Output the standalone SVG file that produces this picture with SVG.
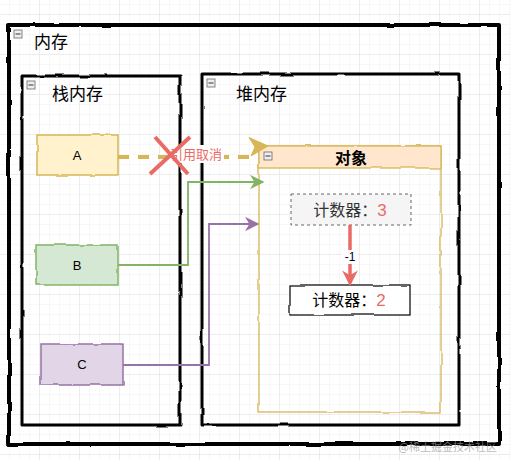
<svg xmlns="http://www.w3.org/2000/svg" width="510" height="460" viewBox="0 0 510 460">
<style>
.t{font-family:"Liberation Sans","Noto Sans CJK SC",sans-serif;fill:#000}
.cn{font-family:"Noto Sans CJK SC","Liberation Sans",sans-serif}
.box{stroke:#000;fill:none;stroke-linejoin:round}
.ic{fill:#eee;stroke:#666;stroke-width:0.8}
.icl{stroke:#333;stroke-width:1}
</style>
<defs>
<pattern id="minor" width="10" height="10" patternUnits="userSpaceOnUse" x="0" y="5">
<path d="M10 0V10M0 10H10" stroke="#f0f0f0" stroke-width="1" fill="none"/>
</pattern>
<pattern id="major" width="40" height="40" patternUnits="userSpaceOnUse" x="0" y="15">
<path d="M40 0V40M0 40H40" stroke="#e2e2e2" stroke-width="1" fill="none"/>
</pattern>
<filter id="rough" x="-5%" y="-5%" width="110%" height="110%">
<feTurbulence type="fractalNoise" baseFrequency="0.04" numOctaves="2" seed="3"/>
<feDisplacementMap in="SourceGraphic" scale="3" xChannelSelector="R" yChannelSelector="G"/>
</filter>
<marker id="ag" viewBox="0 0 10 10" refX="9" refY="5" markerWidth="8" markerHeight="8" orient="auto" markerUnits="strokeWidth">
<path d="M0 0L10 5L0 10L3 5Z" fill="#82b366"/>
</marker>
<marker id="ap" viewBox="0 0 10 10" refX="9" refY="5" markerWidth="8" markerHeight="8" orient="auto" markerUnits="strokeWidth">
<path d="M0 0L10 5L0 10L3 5Z" fill="#9673a6"/>
</marker>
<marker id="ar" viewBox="0 0 10 10" refX="8" refY="5" markerWidth="4.5" markerHeight="4.5" orient="auto" markerUnits="strokeWidth">
<path d="M0 0L10 5L0 10L3 5Z" fill="#ea6b66"/>
</marker>
</defs>
<rect width="510" height="460" fill="#fff"/>
<rect width="510" height="460" fill="url(#minor)"/>
<rect width="510" height="460" fill="url(#major)"/>

<g id="memory">
<rect x="9" y="25" width="490" height="419" class="box" stroke-width="4" filter="url(#rough)"/>
<rect x="14" y="30" width="8" height="8" class="ic"/><path d="M15.5 34H20.5" class="icl"/>
<text x="34" y="48" class="t cn" font-size="17">内存</text>
</g>

<g id="stack">
<rect x="22" y="76" width="158" height="349" class="box" stroke-width="3" filter="url(#rough)"/>
<rect x="27" y="81" width="8" height="8" class="ic"/><path d="M28.5 85H33.5" class="icl"/>
<text x="52" y="100" class="t cn" font-size="17">栈内存</text>
</g>

<g id="heap">
<rect x="202" y="74" width="257" height="351" class="box" stroke-width="3" filter="url(#rough)"/>
<rect x="207" y="79" width="8" height="8" class="ic"/><path d="M208.5 83H213.5" class="icl"/>
<text x="236" y="100" class="t cn" font-size="17">堆内存</text>
</g>

<g id="object">
<rect x="259" y="146" width="182" height="266" fill="none" stroke="#d6b656" stroke-width="1.3" filter="url(#rough)"/>
<rect x="259" y="146" width="182" height="22" fill="#ffe6cc" stroke="#d6b656" stroke-width="1.3" filter="url(#rough)"/>
<rect x="264" y="152" width="8" height="8" class="ic"/><path d="M265.5 156H270.5" class="icl"/>
<text x="351" y="163.5" text-anchor="middle" class="t cn" font-size="16" font-weight="bold">对象</text>
</g>

<g id="nodeA">
<rect x="37" y="135" width="81" height="40" fill="#fff2cc" stroke="#d6b656" stroke-width="1.5" filter="url(#rough)"/>
<text x="77" y="160" text-anchor="middle" class="t" font-size="13">A</text>
</g>
<g id="nodeB">
<rect x="36" y="245" width="82" height="40" fill="#d5e8d4" stroke="#82b366" stroke-width="1.5" filter="url(#rough)"/>
<text x="77" y="270" text-anchor="middle" class="t" font-size="13">B</text>
</g>
<g id="nodeC">
<rect x="41" y="344" width="82" height="41" fill="#e1d5e7" stroke="#9673a6" stroke-width="1.5" filter="url(#rough)"/>
<text x="82" y="369" text-anchor="middle" class="t" font-size="13">C</text>
</g>

<g id="counter3">
<rect x="291" y="194" width="120" height="31" fill="#f5f5f5" stroke="#666" stroke-width="1" stroke-dasharray="3 3"/>
<text x="350" y="216" text-anchor="middle" class="t cn" font-size="16" fill="#333"><tspan fill="#333">计数器：</tspan><tspan fill="#ea6b66" font-family="Liberation Sans,sans-serif" font-size="17">3</tspan></text>
</g>
<g id="counter2">
<rect x="290" y="285" width="120" height="30" fill="#fff" stroke="#000" stroke-width="1.2" filter="url(#rough)"/>
<text x="349" y="306" text-anchor="middle" class="t cn" font-size="16"><tspan>计数器：</tspan><tspan fill="#ea6b66" font-family="Liberation Sans,sans-serif" font-size="17">2</tspan></text>
</g>

<g id="connectors" fill="none">
<path d="M118 157H252" stroke="#d6b656" stroke-width="4" stroke-dasharray="11 9"/>
<path d="M268 146L249 137.5L255 147L251 156Z" fill="#d6b656" stroke="#d6b656" stroke-width="1" stroke-linejoin="round"/>
<rect x="169" y="145" width="55" height="18" fill="#fff"/>
<path d="M150 174L190 137M155 137L188 174" stroke="#ea6b66" stroke-width="4"/>
<text x="196" y="159" text-anchor="middle" class="cn" font-size="13" fill="#ea6b66">引用取消</text>
<path d="M118 265H188V182H263" stroke="#82b366" stroke-width="1.8" marker-end="url(#ag)"/>
<path d="M123 365H209V224H258" stroke="#9673a6" stroke-width="1.8" marker-end="url(#ap)"/>
<path d="M350 225V283" stroke="#ea6b66" stroke-width="3.5" marker-end="url(#ar)"/>
<rect x="342" y="250" width="16" height="14" fill="#fff"/>
<text x="350" y="261" text-anchor="middle" font-family="Liberation Sans,sans-serif" font-size="12" fill="#000033">-1</text>
</g>

<text x="497" y="451" text-anchor="end" class="cn" font-size="11" fill="#999" fill-opacity="0.7">@稀土掘金技术社区</text>
</svg>
